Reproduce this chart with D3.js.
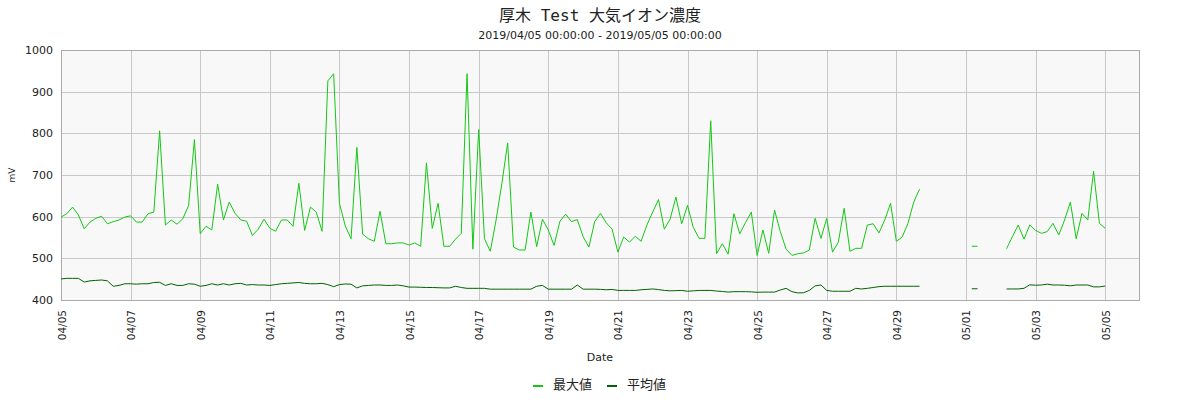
<!DOCTYPE html>
<html>
<head>
<meta charset="utf-8">
<script src="https://cdn.jsdelivr.net/npm/d3@7"></script>
<style>
body { margin: 0; background: #fff; }
text { font-family: "DejaVu Sans", "Noto Sans CJK JP", sans-serif; fill: #222; }
</style>
</head>
<body>
<div id="chart"></div>
<script>
// 4 hour readings from 2019/04/05 00:00, null = no data
var startTime = Date.UTC(2019, 3, 5);
var stepHours = 4;

var maxValues = [
  599, 607, 623, 604, 571, 587, 596, 601, 583, 588, 592, 599,
  602, 587, 587, 607, 611, 806, 580, 592, 582, 595, 627, 785,
  559, 577, 568, 678, 592, 635, 608, 592, 589, 555, 570, 594,
  572, 565, 592, 592, 577, 680, 567, 623, 611, 565, 926, 943,
  632, 578, 547, 766, 558, 547, 541, 613, 535, 535, 537, 537,
  532, 537, 529, 729, 572, 632, 529, 529, 546, 560, 943, 522,
  809, 547, 517, 592, 680, 777, 527, 520, 520, 611, 528, 594,
  568, 531, 589, 606, 588, 593, 552, 527, 588, 608, 585, 570,
  515, 551, 539, 553, 541, 580, 611, 641, 570, 594, 647, 583,
  627, 574, 548, 548, 830, 511, 535, 510, 607, 559, 586, 611,
  507, 568, 512, 616, 564, 522, 507, 511, 513, 520, 596, 548,
  596, 515, 539, 620, 517, 524, 524, 580, 583, 561, 592, 632,
  541, 551, 584, 635, 666, null, null, null, null, null, null, null,
  null, 529, 529, null, null, null, null, 523, 552, 580, 546, 580,
  567, 560, 564, 584, 556, 592, 635, 547, 608, 592, 709, 584,
  572
];

var avgValues = [
  450.5, 452, 452, 452, 443, 446, 447, 448, 446, 433, 435, 439,
  439, 438, 439, 439, 442, 442.5, 435, 439, 435, 435, 439, 438,
  433, 435, 439, 436, 439, 436, 439, 440, 436, 437, 436, 436,
  435, 437, 439, 440, 441, 442, 440, 439, 439, 440, 437, 432,
  437, 438.5, 438, 429, 434, 435, 436, 436, 435, 435, 436, 434,
  431, 431, 430.5, 430, 430, 429.5, 429, 429, 433, 430, 428, 428,
  428, 428, 426, 426, 426, 426, 426, 426, 426, 426, 433, 435,
  426, 426, 426, 426, 426, 436, 426, 426, 426, 425.5, 424.5, 425.5,
  423, 423, 423, 423, 424.5, 425.5, 426.5, 425, 423, 422, 422.5, 423,
  421, 422, 423, 423, 423, 421.5, 420.5, 419, 420, 420, 420, 419.5,
  418.5, 419, 419, 419, 424, 428, 420, 417, 417.5, 423, 434, 436,
  423, 421, 421, 421, 421, 428, 426.5, 428, 430, 432, 433, 433,
  433, 433, 433, 433, 433, null, null, null, null, null, null, null,
  null, 427, 427, null, null, null, null, 426.5, 426.5, 426.5, 428, 436.5,
  435.5, 436, 438, 436, 436, 435.5, 434, 436, 436, 436, 431.5, 431.5,
  433.5
];

var yTicks = [400, 500, 600, 700, 800, 900, 1000];
var seriesNames = ["最大値", "平均値"];
var seriesColors = ["#14c814", "#006400"];

var width = 1200;
var height = 400;
var plotLeft = 61, plotRight = 1140, plotTop = 50, plotBottom = 300;

var times = maxValues.map(function(d, i) { return new Date(startTime + i * stepHours * 3600000); });

var svg = d3.select("#chart").append("svg").attr("width", width).attr("height", height);

var x = d3.scaleUtc()
    .domain([new Date(Date.UTC(2019, 3, 5)), new Date(Date.UTC(2019, 4, 6))])
    .range([plotLeft, plotRight]);
var y = d3.scaleLinear().domain([400, 1000]).range([plotBottom, plotTop]);

svg.append("rect")
    .attr("x", plotLeft).attr("y", plotTop)
    .attr("width", plotRight - plotLeft).attr("height", plotBottom - plotTop)
    .attr("fill", "#f8f8f8");

var xTicks = x.ticks(d3.utcDay.every(2));

// grid
svg.append("g").selectAll("line")
    .data(yTicks)
    .enter()
    .append("line")
    .attr("x1", plotLeft).attr("x2", plotRight)
    .attr("y1", function(d) { return Math.round(y(d)) + 0.5; })
    .attr("y2", function(d) { return Math.round(y(d)) + 0.5; })
    .attr("stroke", "#c8c8c8");

svg.append("g").selectAll("line")
    .data(xTicks)
    .enter()
    .append("line")
    .attr("x1", function(d) { return Math.round(x(d)) + 0.5; })
    .attr("x2", function(d) { return Math.round(x(d)) + 0.5; })
    .attr("y1", plotTop).attr("y2", plotBottom)
    .attr("stroke", "#c8c8c8");

// axes (labels only)
var yAxis = svg.append("g")
    .attr("transform", "translate(" + plotLeft + ",0)")
    .call(d3.axisLeft(y).tickValues(yTicks).tickSize(0).tickPadding(8).tickFormat(d3.format("d")));
yAxis.select(".domain").remove();
yAxis.selectAll("text").style("font-size", "11px");

var xAxis = svg.append("g")
    .attr("transform", "translate(0," + plotBottom + ")")
    .call(d3.axisBottom(x).tickValues(xTicks).tickSize(0).tickFormat(d3.utcFormat("%m/%d")));
xAxis.select(".domain").remove();
xAxis.selectAll("text")
    .style("font-size", "10.5px")
    .attr("text-anchor", "end")
    .attr("dy", null)
    .attr("y", 0)
    .attr("transform", "translate(4,10) rotate(-90)");

svg.append("rect")
    .attr("x", plotLeft + 0.5).attr("y", plotTop + 0.5)
    .attr("width", plotRight - plotLeft - 1).attr("height", plotBottom - plotTop)
    .attr("fill", "none")
    .attr("stroke", "#aaaaaa");

var line = d3.line()
    .defined(function(d) { return d[1] != null; })
    .x(function(d) { return x(d[0]); })
    .y(function(d) { return y(d[1]); });

[maxValues, avgValues].forEach(function(vals, k) {
    svg.append("path")
        .datum(vals.map(function(v, i) { return [times[i], v]; }))
        .attr("d", line)
        .attr("fill", "none")
        .attr("stroke", seriesColors[k])
        .attr("stroke-width", 1);
});

// titles
svg.append("text")
    .attr("x", 600).attr("y", 21)
    .attr("text-anchor", "middle")
    .style("font-size", "16px")
    .style("font-family", "'DejaVu Sans Mono', 'Noto Sans CJK JP'")
    .text("厚木 Test 大気イオン濃度");

svg.append("text")
    .attr("x", 600).attr("y", 39)
    .attr("text-anchor", "middle")
    .style("font-size", "11px")
    .text("2019/04/05 00:00:00 - 2019/05/05 00:00:00");

svg.append("text")
    .attr("x", 600).attr("y", 361)
    .attr("text-anchor", "middle")
    .style("font-size", "11px")
    .text("Date");

svg.append("text")
    .attr("transform", "translate(15," + ((plotTop + plotBottom) / 2) + ") rotate(-90)")
    .attr("text-anchor", "middle")
    .style("font-size", "9px")
    .text("mV");

// legend
var legendX = [533, 607];
var legend = svg.append("g").selectAll("g")
    .data(seriesNames)
    .enter()
    .append("g")
    .attr("transform", function(d, i) { return "translate(" + legendX[i] + ",386)"; });
legend.append("line")
    .attr("x1", 0).attr("x2", 10)
    .attr("stroke", function(d, i) { return seriesColors[i]; })
    .attr("stroke-width", 2);
legend.append("text")
    .attr("x", 20).attr("y", 3)
    .style("font-size", "13px")
    .style("font-family", "'Noto Sans CJK JP'")
    .text(function(d) { return d; });
</script>
</body>
</html>
